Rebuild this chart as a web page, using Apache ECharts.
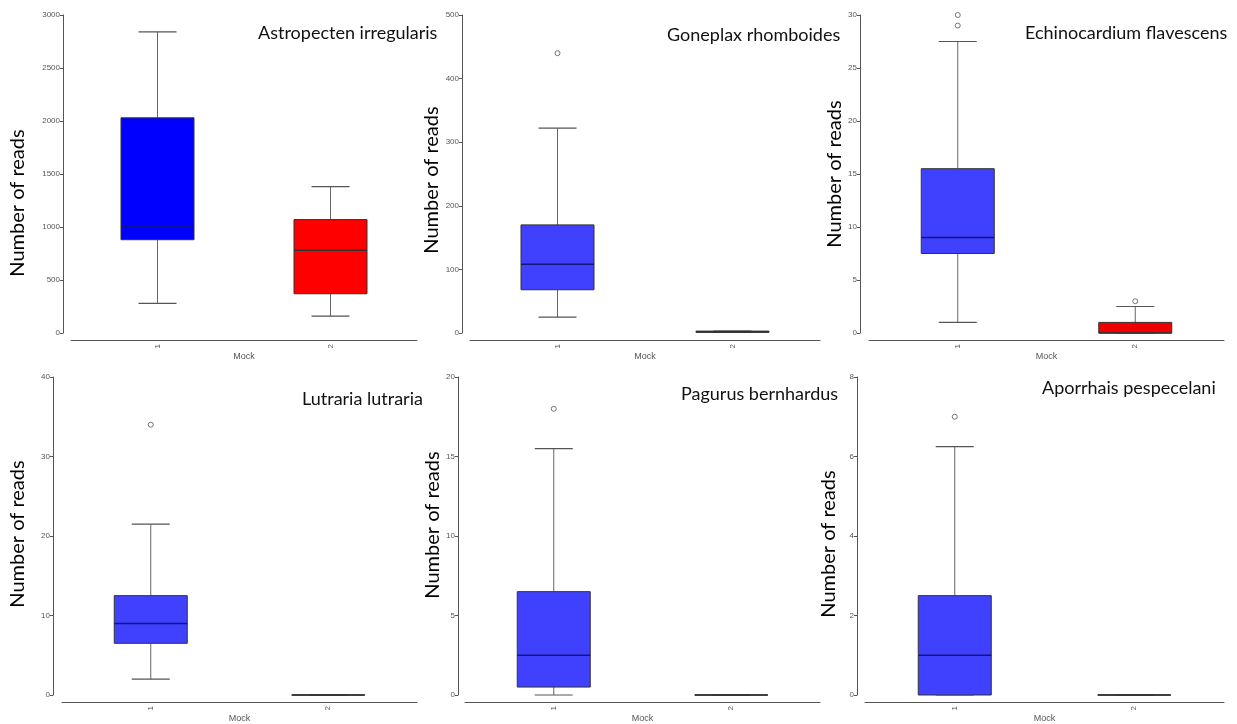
<!DOCTYPE html>
<html>
<head>
<meta charset="utf-8">
<script src="https://cdn.jsdelivr.net/npm/echarts@6/dist/echarts.min.js"></script>
<style>
  html, body { margin: 0; padding: 0; background: #fff; }
  #chart { width: 1237px; height: 724px; }
</style>
</head>
<body>
<div id="chart"></div>
<script>
// categories on every x axis
const categories = ['1', '2'];
const species = [
  'Astropecten irregularis', 'Goneplax rhomboides', 'Echinocardium flavescens',
  'Lutraria lutraria', 'Pagurus bernhardus', 'Aporrhais pespecelani'
];

// [low whisker, Q1, median, Q3, high whisker] for group 1 and group 2
const astropecten = [[280, 880, 1000, 2030, 2840], [160, 370, 780, 1070, 1380]];
const goneplax = [[25, 68, 108, 170, 322], [1, 1, 2, 3, 3]];
const echinocardium = [[1, 7.5, 9, 15.5, 27.5], [0, 0, 0, 1, 2.5]];
const lutraria = [[2, 6.5, 9, 12.5, 21.5], [0, 0, 0, 0, 0]];
const pagurus = [[0, 0.5, 2.5, 6.5, 15.5], [0, 0, 0, 0, 0]];
const aporrhais = [[0, 0, 1, 2.5, 6.25], [0, 0, 0, 0, 0]];

// outliers: [category, value]
const astropectenOut = [];
const goneplaxOut = [['1', 440]];
const echinocardiumOut = [['1', 29], ['1', 30], ['2', 3]];
const lutrariaOut = [['1', 34]];
const pagurusOut = [['1', 18]];
const aporrhaisOut = [['1', 7]];

// y axis ticks
const yMax = [3000, 500, 30, 40, 20, 8];
const yStep = [500, 100, 5, 10, 5, 2];

const boxes = [astropecten, goneplax, echinocardium, lutraria, pagurus, aporrhais];
const outliers = [astropectenOut, goneplaxOut, echinocardiumOut, lutrariaOut, pagurusOut, aporrhaisOut];

// layout of each panel (pixels)
const panels = [
  { left: 71, right: 820, top: 15, yOff: 8, nameGap: 35, nameShift: 29, titleX: 258, titleY: 24, fill: ['#0000ff', '#ff0000'] },
  { left: 470, right: 417, top: 15, yOff: 8, nameGap: 13, nameShift: 6, titleX: 667, titleY: 26, fill: ['#4040ff', '#4040ff'] },
  { left: 869, right: 13, top: 15, yOff: 9, nameGap: 15, nameShift: 0, titleX: 1025, titleY: 24, fill: ['#4040ff', '#ee0000'] },
  { left: 62, right: 820, top: 377, yOff: 9, nameGap: 25, nameShift: -2, titleX: 302, titleY: 390, fill: ['#4040ff', '#4040ff'] },
  { left: 465, right: 417, top: 377, yOff: 7, nameGap: 15, nameShift: -11, titleX: 681, titleY: 385, fill: ['#4040ff', '#4040ff'] },
  { left: 865, right: 13, top: 377, yOff: 8, nameGap: 18, nameShift: 8, titleX: 1042, titleY: 379, fill: ['#4040ff', '#4040ff'] }
];
const plotHeight = 318;
const boxWidth = 73;
const capWidth = 38;
const axisColor = '#555';
const labelFont = 'Liberation Sans';
const titleFont = 'Lato';

function makeRenderer(fill) {
  return function (params, api) {
    const c = api.value(0);
    const lo = api.coord([c, api.value(1)]);
    const q1 = api.coord([c, api.value(2)]);
    const md = api.coord([c, api.value(3)]);
    const q3 = api.coord([c, api.value(4)]);
    const hi = api.coord([c, api.value(5)]);
    const x = lo[0];
    const hw = boxWidth / 2;
    const cw = capWidth / 2;
    const line = (x1, y1, x2, y2, color, w) => ({
      type: 'line',
      shape: { x1, y1, x2, y2 },
      style: { stroke: color, lineWidth: w }
    });
    return {
      type: 'group',
      children: [
        line(x, q3[1], x, hi[1], '#666', 1),
        line(x - cw, hi[1], x + cw, hi[1], '#555', 1.2),
        line(x, lo[1], x, q1[1], '#666', 1),
        line(x - cw, lo[1], x + cw, lo[1], '#555', 1.2),
        {
          type: 'rect',
          shape: { x: x - hw, y: q3[1], width: boxWidth, height: q1[1] - q3[1] },
          style: { fill: fill[params.dataIndex], stroke: '#333', lineWidth: 1 }
        },
        line(x - hw, md[1], x + hw, md[1], params.dataIndex === 0 ? '#14147a' : '#333', 1.5)
      ]
    };
  };
}

const option = {
  backgroundColor: '#fff',
  animation: false,
  title: [],
  grid: [],
  xAxis: [],
  yAxis: [],
  series: []
};

panels.forEach((p, i) => {
  option.title.push({
    text: species[i],
    left: p.titleX,
    top: p.titleY,
    padding: 0,
    textStyle: { fontFamily: titleFont, fontSize: 18, fontWeight: 'normal', color: '#111' }
  });
  option.grid.push({
    left: p.left,
    right: p.right,
    top: p.top,
    height: plotHeight,
    outerBoundsMode: 'none'
  });
  option.xAxis.push({
    gridIndex: i,
    type: 'category',
    data: categories,
    offset: 7,
    name: 'Mock',
    nameLocation: 'middle',
    nameGap: 12,
    nameTextStyle: { fontFamily: labelFont, fontSize: 9, color: axisColor },
    axisLine: { onZero: false, lineStyle: { color: axisColor, width: 1 } },
    axisTick: { alignWithLabel: true, length: 3, lineStyle: { color: axisColor } },
    axisLabel: { rotate: 90, fontFamily: labelFont, fontSize: 8, color: axisColor, margin: 4 },
    splitLine: { show: false }
  });
  option.yAxis.push({
    gridIndex: i,
    type: 'value',
    min: 0,
    max: yMax[i],
    interval: yStep[i],
    offset: p.yOff,
    name: 'Number of reads',
    nameLocation: 'middle',
    nameRotate: 90,
    nameGap: p.nameGap,
    nameTextStyle: {
      fontFamily: titleFont,
      fontSize: 20,
      color: '#000',
      padding: p.nameShift >= 0 ? [0, p.nameShift * 2, 0, 0] : [0, 0, 0, -p.nameShift * 2]
    },
    axisLine: { show: true, lineStyle: { color: axisColor, width: 1 } },
    axisTick: { show: true, length: 3, lineStyle: { color: axisColor } },
    axisLabel: {
      fontFamily: labelFont,
      fontSize: 8,
      color: axisColor,
      margin: 3,
      formatter: (v) => String(v)
    },
    splitLine: { show: false }
  });
  option.series.push({
    type: 'custom',
    xAxisIndex: i,
    yAxisIndex: i,
    renderItem: makeRenderer(p.fill),
    encode: { x: 0, y: [1, 2, 3, 4, 5] },
    data: boxes[i].map((b, k) => [k].concat(b))
  });
  option.series.push({
    type: 'scatter',
    xAxisIndex: i,
    yAxisIndex: i,
    symbol: 'circle',
    symbolSize: 5,
    itemStyle: { color: '#fff', borderColor: '#555', borderWidth: 1 },
    data: outliers[i]
  });
});

const myChart = echarts.init(document.getElementById('chart'));
myChart.setOption(option);
window.addEventListener('resize', () => {
  myChart.resize();
});
</script>
</body>
</html>
